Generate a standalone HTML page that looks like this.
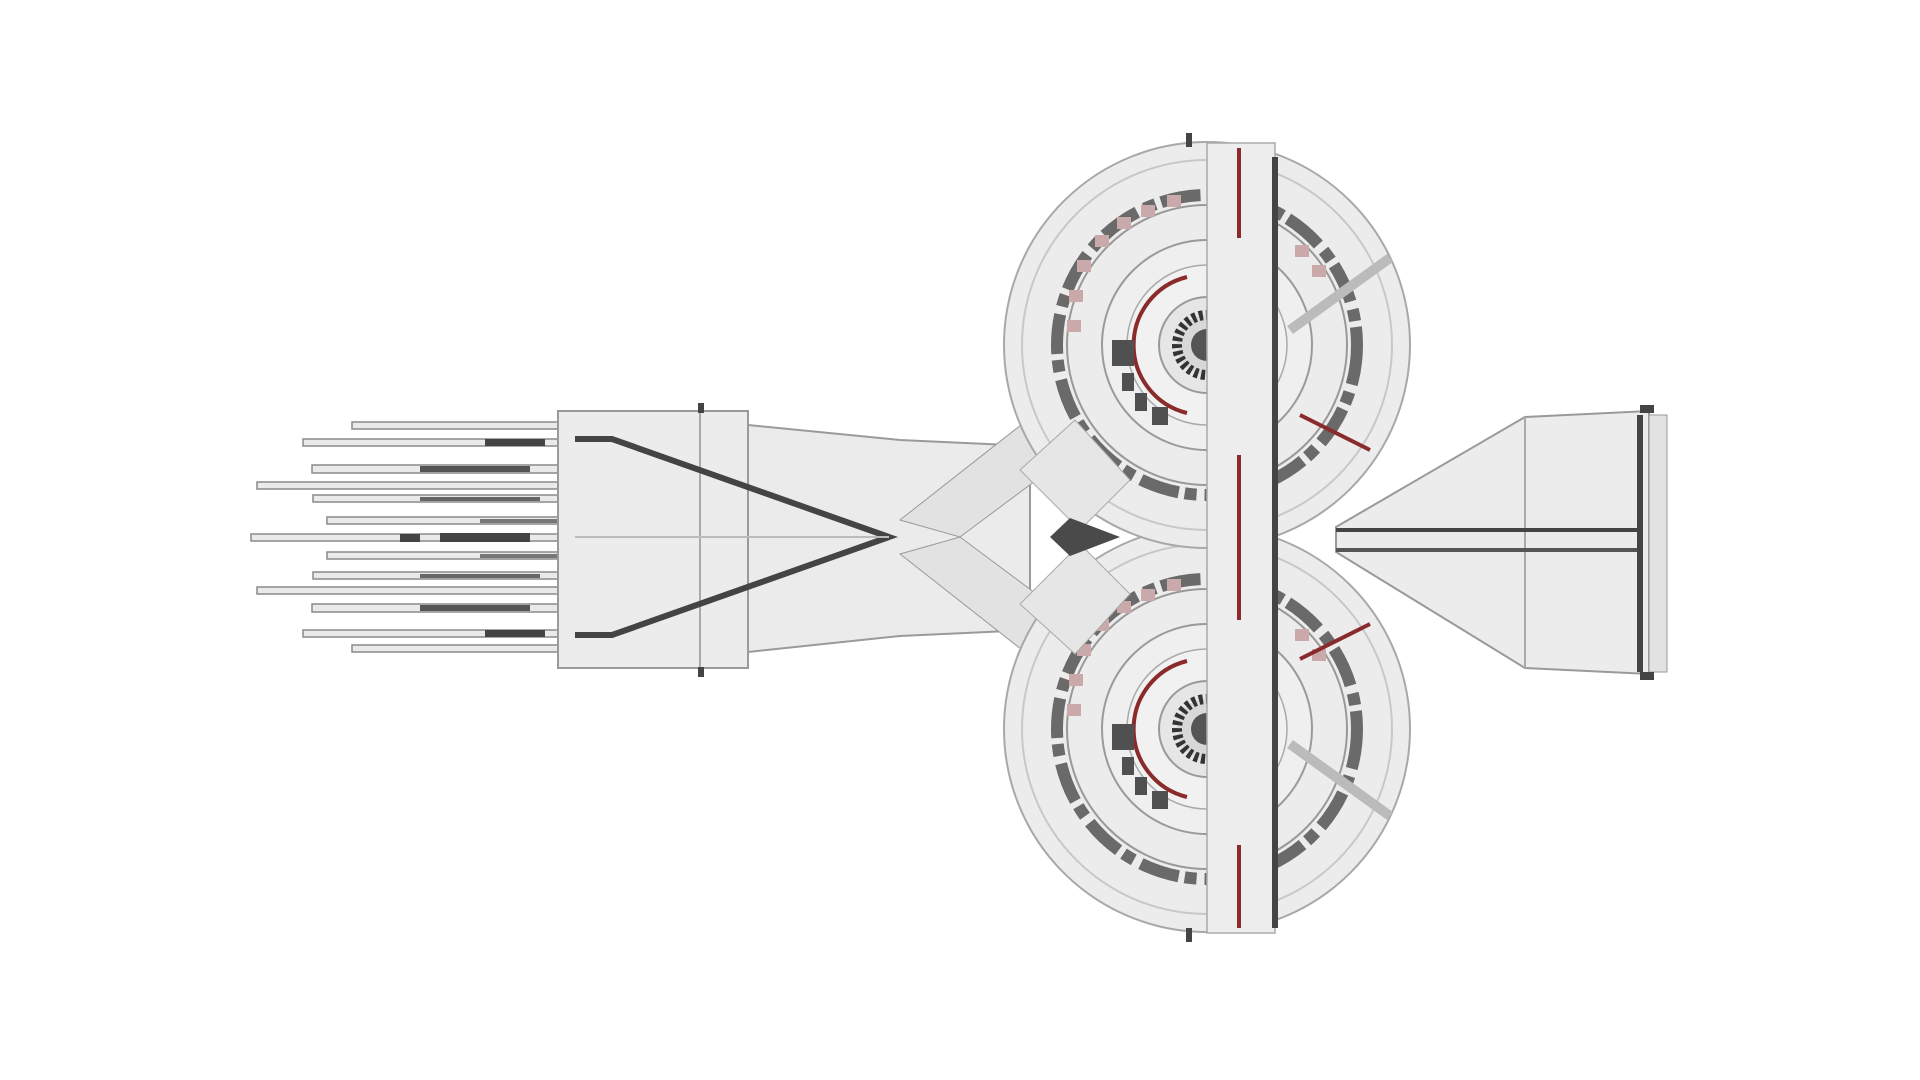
<!DOCTYPE html>
<html><head><meta charset="utf-8"><style>html,body{margin:0;padding:0;background:#fff;width:1920px;height:1080px;overflow:hidden}</style></head>
<body>
<svg width="1920" height="1080" viewBox="0 0 1920 1080" xmlns="http://www.w3.org/2000/svg">
<defs>
<g id="disc">
  <circle r="203" fill="#ececec" stroke="#a8a8a8" stroke-width="2"/>
  <circle r="185" fill="none" stroke="#c8c8c8" stroke-width="2"/>
  <circle r="150" fill="none" stroke="#6a6a6a" stroke-width="12" stroke-dasharray="40 8 12 6"/>
  <circle r="140" fill="none" stroke="#999" stroke-width="2"/>
  <circle r="105" fill="#efefef" stroke="#9a9a9a" stroke-width="2"/>
  <circle r="80" fill="#f1f1f1" stroke="#aaa" stroke-width="1.5"/>
  <circle r="48" fill="#e6e6e6" stroke="#999" stroke-width="2"/>
  <circle r="30" fill="#d8d8d8" stroke="#333" stroke-width="10" stroke-dasharray="4 3"/>
  <circle r="16" fill="#555"/>
  <path d="M-20,-68 A70,70 0 0 0 -20,68" fill="none" stroke="#8b2a2a" stroke-width="4"/>
  <g fill="#505050">
    <rect x="-95" y="-5" width="22" height="26"/><rect x="-85" y="28" width="12" height="18"/>
    <rect x="-72" y="48" width="12" height="18"/><rect x="-55" y="62" width="16" height="18"/>
    <rect x="8" y="-95" width="12" height="20"/><rect x="30" y="-95" width="18" height="22"/>
    <rect x="8" y="80" width="12" height="20"/><rect x="30" y="80" width="18" height="22"/>
  </g>
  <g fill="#c9a9a9">
    <rect x="-140" y="-25" width="14" height="12"/><rect x="-138" y="-55" width="14" height="12"/>
    <rect x="-130" y="-85" width="14" height="12"/><rect x="-112" y="-110" width="14" height="12"/>
    <rect x="-90" y="-128" width="14" height="12"/><rect x="-66" y="-140" width="14" height="12"/>
    <rect x="-40" y="-150" width="14" height="12"/><rect x="88" y="-100" width="14" height="12"/>
    <rect x="105" y="-80" width="14" height="12"/>
  </g>
</g>
</defs>
<g fill="#eaeaea" stroke="#8a8a8a" stroke-width="1.5">
  <rect x="352" y="422" width="210" height="7"/>
  <rect x="303" y="439" width="259" height="7"/>
  <rect x="312" y="465" width="250" height="8"/>
  <rect x="257" y="482" width="305" height="7"/>
  <rect x="313" y="495" width="249" height="7"/>
  <rect x="327" y="517" width="235" height="7"/>
  <rect x="251" y="534" width="311" height="7"/>
  <rect x="327" y="552" width="235" height="7"/>
  <rect x="313" y="572" width="249" height="7"/>
  <rect x="257" y="587" width="305" height="7"/>
  <rect x="312" y="604" width="250" height="8"/>
  <rect x="303" y="630" width="259" height="7"/>
  <rect x="352" y="645" width="210" height="7"/>
</g>
<g fill="#444">
  <rect x="485" y="439" width="60" height="7"/><rect x="420" y="466" width="110" height="6" fill="#555"/>
  <rect x="440" y="533" width="90" height="9"/><rect x="400" y="534" width="20" height="8"/>
  <rect x="420" y="605" width="110" height="6" fill="#555"/><rect x="485" y="630" width="60" height="7"/>
  <rect x="420" y="497" width="120" height="4" fill="#666"/><rect x="420" y="574" width="120" height="4" fill="#666"/>
  <rect x="480" y="519" width="80" height="4" fill="#777"/><rect x="480" y="554" width="80" height="4" fill="#777"/>
</g>
<rect x="558" y="411" width="190" height="257" fill="#ebeceb" stroke="#9a9a9a" stroke-width="2"/>
<line x1="700" y1="411" x2="700" y2="668" stroke="#aaa" stroke-width="2"/>
<polygon points="748,425 900,440 1030,446 1030,630 900,636 748,652" fill="#ebebeb" stroke="#9a9a9a" stroke-width="2"/>
<polygon points="900,520 1040,410 1090,440 960,537" fill="#e2e2e2" stroke="#999"/>
<polygon points="900,554 1040,664 1090,634 960,537" fill="#e2e2e2" stroke="#999"/>
<use href="#disc" x="1207" y="729"/>
<use href="#disc" x="1207" y="345"/>
<polygon points="1020,470 1075,420 1130,480 1080,530" fill="#e6e6e6" stroke="#aaa"/>
<polygon points="1020,604 1075,654 1130,594 1080,544" fill="#e6e6e6" stroke="#aaa"/>
<polygon points="1070,518 1120,537 1070,556 1050,537" fill="#4a4a4a"/>
<rect x="1207" y="143" width="68" height="790" fill="#ededed" stroke="#aaa" stroke-width="1.5"/>
<line x1="1239" y1="148" x2="1239" y2="238" stroke="#8b2a2a" stroke-width="4"/>
<line x1="1239" y1="455" x2="1239" y2="620" stroke="#8b2a2a" stroke-width="4"/>
<line x1="1239" y1="845" x2="1239" y2="928" stroke="#8b2a2a" stroke-width="4"/>
<line x1="1275" y1="157" x2="1275" y2="928" stroke="#444" stroke-width="6"/>
<line x1="1300" y1="415" x2="1370" y2="450" stroke="#8b2a2a" stroke-width="4"/>
<line x1="1300" y1="659" x2="1370" y2="624" stroke="#8b2a2a" stroke-width="4"/>
<line x1="1290" y1="330" x2="1390" y2="258" stroke="#bbb" stroke-width="10"/>
<line x1="1290" y1="744" x2="1390" y2="816" stroke="#bbb" stroke-width="10"/>
<polygon points="1336,527 1525,417 1649,411 1649,674 1525,668 1336,552" fill="#ececec" stroke="#999" stroke-width="2"/>
<line x1="1525" y1="417" x2="1525" y2="668" stroke="#aaa" stroke-width="2"/>
<rect x="1649" y="415" width="18" height="257" fill="#e2e2e2" stroke="#999"/>
<line x1="1336" y1="530" x2="1640" y2="530" stroke="#444" stroke-width="4"/>
<line x1="1336" y1="550" x2="1640" y2="550" stroke="#555" stroke-width="4"/>
<line x1="1640" y1="415" x2="1640" y2="672" stroke="#444" stroke-width="6"/>
<polyline points="575,439 612,439 889,537 612,635 575,635" fill="none" stroke="#444" stroke-width="6"/>
<line x1="575" y1="537" x2="889" y2="537" stroke="#bbb" stroke-width="2"/>
<g fill="#444"><rect x="698" y="403" width="6" height="10"/><rect x="698" y="667" width="6" height="10"/>
<rect x="1186" y="133" width="6" height="14"/><rect x="1186" y="928" width="6" height="14"/>
<rect x="1640" y="405" width="14" height="8"/><rect x="1640" y="672" width="14" height="8"/></g>
</svg>
</body></html>
